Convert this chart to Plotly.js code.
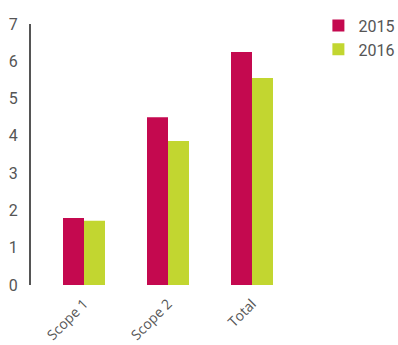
<!DOCTYPE html>
<html>
<head>
<meta charset="utf-8">
<script src="https://cdn.plot.ly/plotly-3.0.1.min.js"></script>
<style>html,body{margin:0;padding:0;background:#fff;}#chart{width:398px;height:345px;}</style>
</head>
<body>
<div id="chart"></div>
<script>
const categories = ["Scope 1", "Scope 2", "Total"];
const series2015 = [1.80, 4.50, 6.25];
const series2016 = [1.72, 3.86, 5.55];
const seriesNames = ["2015", "2016"];
const yTicks = [0, 1, 2, 3, 4, 5, 6, 7];

const data = [
  {type: "bar", name: seriesNames[0], x: categories, y: series2015, marker: {color: "#C4094F"}, hoverinfo: "x+y+name"},
  {type: "bar", name: seriesNames[1], x: categories, y: series2016, marker: {color: "#C2D630"}, hoverinfo: "x+y+name"}
];

const layout = {
  width: 398, height: 345,
  margin: {l: 31, r: 93, t: 24, b: 60, pad: 0, autoexpand: false},
  paper_bgcolor: "#fff", plot_bgcolor: "#fff",
  barmode: "group", bargap: 0.5, bargroupgap: 0,
  showlegend: true,
  legend: {xref: "container", yref: "container", x: 0.8, y: 0.975, xanchor: "left", yanchor: "top",
           font: {family: "Roboto, sans-serif", size: 16, color: "#555"}, itemwidth: 30, bgcolor: "rgba(0,0,0,0)"},
  xaxis: {
    type: "category", range: [-0.631, 2.631],
    showline: false, showgrid: false, zeroline: false, ticks: "",
    tickangle: -45, ticklabelstandoff: 7,
    tickfont: {family: "Open Sans, sans-serif", size: 14, color: "#555"}
  },
  yaxis: {
    range: [0, 7], tickvals: yTicks, ticktext: yTicks.map(String),
    showline: true, linecolor: "#555", linewidth: 2,
    showgrid: false, zeroline: false, ticks: "", ticklabelstandoff: 8,
    tickfont: {family: "Roboto, sans-serif", size: 16, color: "#555"}
  }
};

Plotly.newPlot("chart", data, layout, {displayModeBar: false, staticPlot: true});
</script>
</body>
</html>
